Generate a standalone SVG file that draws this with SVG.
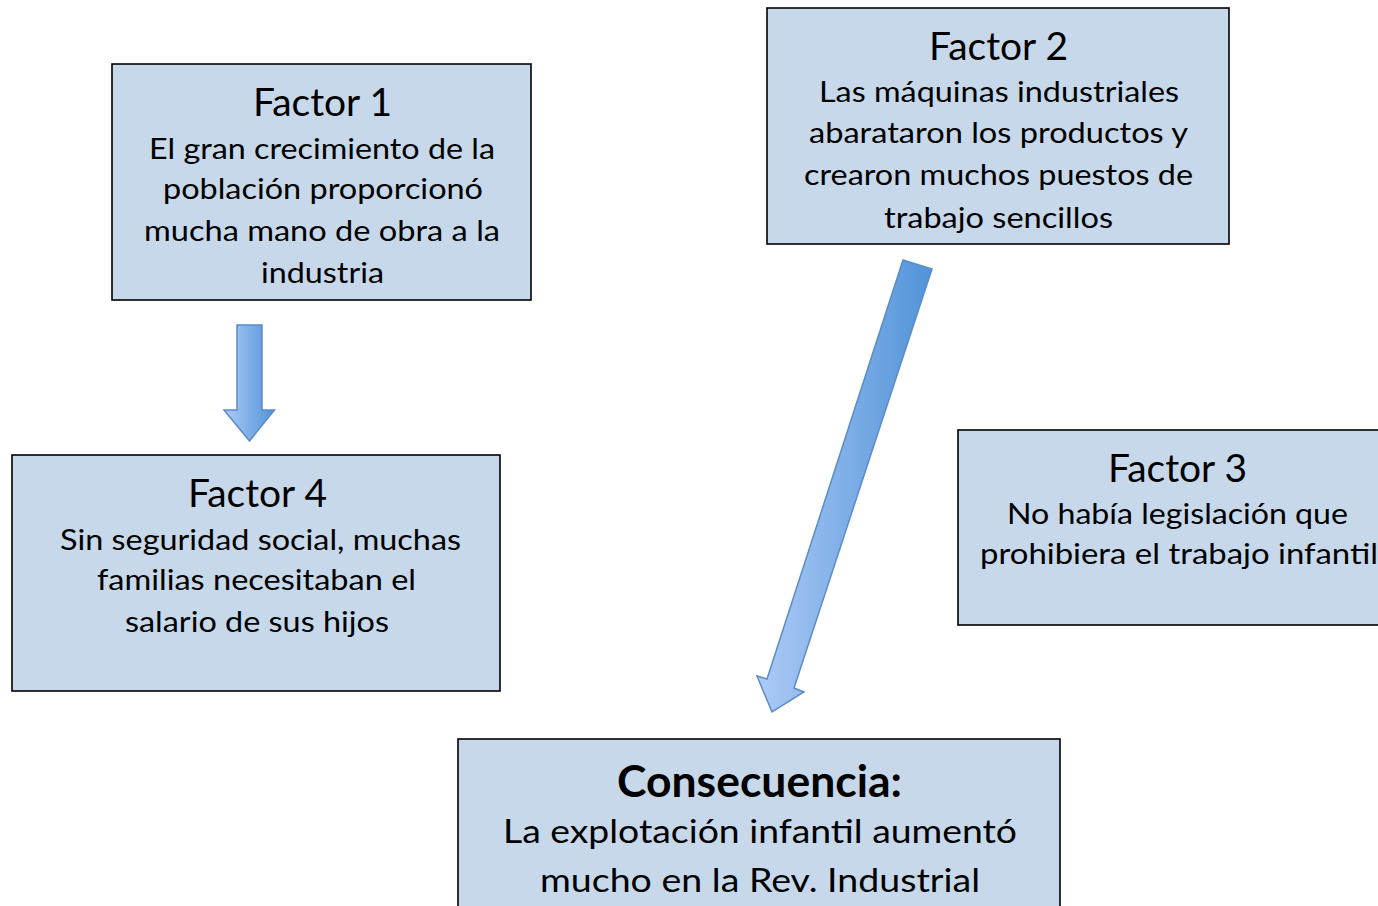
<svg xmlns="http://www.w3.org/2000/svg" width="1378" height="906" viewBox="0 0 1378 906">
<defs>
<linearGradient id="g1" x1="0" y1="0" x2="1" y2="0">
<stop offset="0" stop-color="#AECBF6"/>
<stop offset="1" stop-color="#5093D8"/>
</linearGradient>
<style>
.box{fill:#C6D8E9;stroke:#000;stroke-width:1.6}
.t{font-family:Lato,"Liberation Sans",sans-serif;fill:#000;text-anchor:middle}
.h{font-size:38px}
.b{font-size:28px}
.c{font-size:44px;font-weight:bold}
.cb{font-size:32px}
.arr{fill:url(#g1);stroke:#5A8CC8;stroke-width:1.5;stroke-linejoin:miter}
</style>
</defs>
<rect width="1378" height="906" fill="#fff"/>
<g id="connectors">
<polygon class="arr" points="237,325 262,325 262,410 274.5,410 249.5,441 224,410 237,410"/>
<polygon class="arr" points="903,260 932,269 794,688 804,692 772,712 757,676 767,679"/>
</g>
<g id="factor1">
<rect class="box" x="112" y="64" width="419" height="236"/>
<text class="t h" x="322.5" y="116" textLength="139" lengthAdjust="spacingAndGlyphs">Factor 1</text>
<text class="t b" x="322" y="158.5" textLength="346" lengthAdjust="spacingAndGlyphs">El gran crecimiento de la</text>
<text class="t b" x="323" y="198.5" textLength="320" lengthAdjust="spacingAndGlyphs">población proporcionó</text>
<text class="t b" x="322" y="241" textLength="356" lengthAdjust="spacingAndGlyphs">mucha mano de obra a la</text>
<text class="t b" x="322.5" y="282.5" textLength="123" lengthAdjust="spacingAndGlyphs">industria</text>
</g>
<g id="factor2">
<rect class="box" x="767" y="8" width="462" height="236"/>
<text class="t h" x="998.5" y="60" textLength="139" lengthAdjust="spacingAndGlyphs">Factor 2</text>
<text class="t b" x="999" y="102" textLength="360" lengthAdjust="spacingAndGlyphs">Las máquinas industriales</text>
<text class="t b" x="998.5" y="142.5" textLength="379" lengthAdjust="spacingAndGlyphs">abarataron los productos y</text>
<text class="t b" x="998.5" y="185" textLength="389" lengthAdjust="spacingAndGlyphs">crearon muchos puestos de</text>
<text class="t b" x="998.5" y="227.5" textLength="229" lengthAdjust="spacingAndGlyphs">trabajo sencillos</text>
</g>
<g id="factor3">
<rect class="box" x="958" y="430" width="440" height="195"/>
<text class="t h" x="1177.5" y="481.5" textLength="139" lengthAdjust="spacingAndGlyphs">Factor 3</text>
<text class="t b" x="1177.5" y="523.5" textLength="341" lengthAdjust="spacingAndGlyphs">No había legislación que</text>
<text class="t b" x="1179" y="563.5" textLength="398" lengthAdjust="spacingAndGlyphs">prohibiera el trabajo infantil</text>
</g>
<g id="factor4">
<rect class="box" x="12" y="455" width="488" height="236"/>
<text class="t h" x="257.5" y="507" textLength="139" lengthAdjust="spacingAndGlyphs">Factor 4</text>
<text class="t b" x="260.5" y="549.5" textLength="401" lengthAdjust="spacingAndGlyphs">Sin seguridad social, muchas</text>
<text class="t b" x="256.5" y="589.5" textLength="319" lengthAdjust="spacingAndGlyphs">familias necesitaban el</text>
<text class="t b" x="257" y="632" textLength="264" lengthAdjust="spacingAndGlyphs">salario de sus hijos</text>
</g>
<g id="consecuencia">
<rect class="box" x="458" y="739" width="602" height="180"/>
<text class="t c" x="759.5" y="797" textLength="285" lengthAdjust="spacingAndGlyphs">Consecuencia:</text>
<text class="t cb" x="760" y="843" textLength="514" lengthAdjust="spacingAndGlyphs">La explotación infantil aumentó</text>
<text class="t cb" x="760" y="891.5" textLength="440" lengthAdjust="spacingAndGlyphs">mucho en la Rev. Industrial</text>
</g>
</svg>
